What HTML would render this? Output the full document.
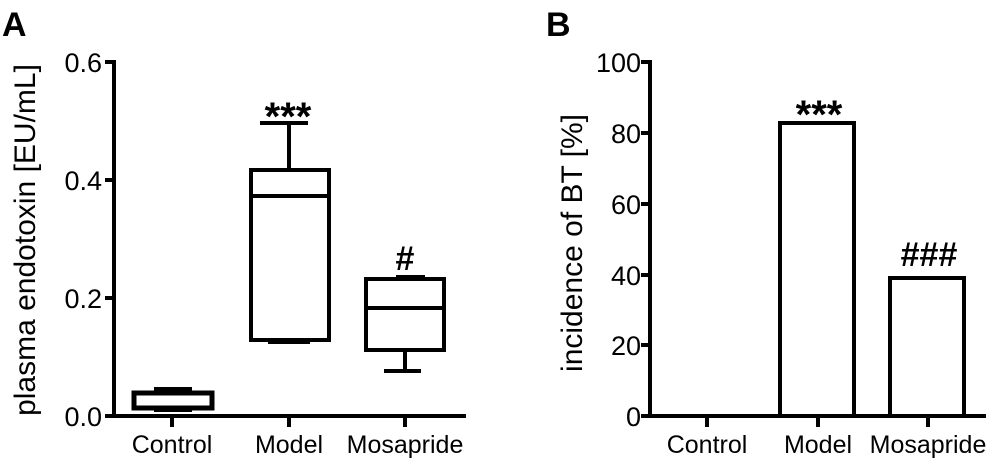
<!DOCTYPE html>
<html><head><style>body{margin:0;background:#fff}svg{display:block}</style></head><body>
<svg width="992" height="461" viewBox="0 0 992 461" xmlns="http://www.w3.org/2000/svg" font-family="Liberation Sans, sans-serif" fill="#000">
<text x="2" y="36" font-size="34" font-weight="bold">A</text>
<text x="546" y="36" font-size="34" font-weight="bold">B</text>
<g stroke="#000" stroke-width="4" fill="none" stroke-linecap="square">
<line x1="114" y1="62" x2="114" y2="416"/>
<line x1="114" y1="416" x2="464" y2="416"/>
<line x1="107" y1="62" x2="114" y2="62"/><line x1="107" y1="180" x2="114" y2="180"/><line x1="107" y1="298" x2="114" y2="298"/><line x1="107" y1="416" x2="114" y2="416"/>
<line x1="172" y1="416" x2="172" y2="425"/><line x1="289" y1="416" x2="289" y2="425"/><line x1="405" y1="416" x2="405" y2="425"/>
<rect x="134" y="393" width="78" height="15" stroke-width="5"/>
<line x1="156" y1="389" x2="190" y2="389"/><line x1="156" y1="410" x2="190" y2="410"/>
<rect x="251" y="170" width="78" height="170"/>
<line x1="251" y1="196" x2="329" y2="196"/>
<line x1="289" y1="170" x2="289" y2="123"/><line x1="262" y1="123" x2="306" y2="123"/>
<line x1="270" y1="342" x2="308" y2="342"/>
<rect x="366" y="279" width="78" height="71"/>
<line x1="366" y1="308" x2="444" y2="308"/>
<line x1="398" y1="277" x2="423" y2="277"/>
<line x1="405" y1="350" x2="405" y2="371"/><line x1="386" y1="371" x2="419" y2="371"/>
<line x1="650" y1="62" x2="650" y2="416"/>
<line x1="650" y1="416" x2="984" y2="416"/>
<line x1="643" y1="62" x2="650" y2="62"/><line x1="643" y1="133" x2="650" y2="133"/><line x1="643" y1="204" x2="650" y2="204"/><line x1="643" y1="275" x2="650" y2="275"/><line x1="643" y1="345" x2="650" y2="345"/><line x1="643" y1="416" x2="650" y2="416"/>
<line x1="707" y1="416" x2="707" y2="425"/><line x1="818" y1="416" x2="818" y2="425"/><line x1="928" y1="416" x2="928" y2="425"/>
<rect x="780" y="123" width="74" height="293"/>
<rect x="890" y="278" width="74" height="138"/>
</g>
<g font-size="27" text-anchor="end">
<text x="102" y="72">0.6</text><text x="102" y="190">0.4</text><text x="102" y="308">0.2</text><text x="102" y="426">0.0</text>
<text x="641" y="72">100</text><text x="641" y="143">80</text><text x="641" y="214">60</text><text x="641" y="285">40</text><text x="641" y="355">20</text><text x="641" y="426">0</text>
</g>
<g font-size="25" text-anchor="middle">
<text x="172" y="453">Control</text><text x="289" y="453">Model</text><text x="405" y="453">Mosapride</text>
<text x="707" y="453">Control</text><text x="818" y="453">Model</text><text x="928" y="453">Mosapride</text>
</g>
<g font-size="30" text-anchor="middle">
<text transform="translate(35,240) rotate(-90)">plasma endotoxin [EU/mL]</text>
<text transform="translate(582,243) rotate(-90)">incidence of BT [%]</text>
</g>
<g font-size="40" font-weight="bold" text-anchor="middle">
<text x="288" y="130">***</text><text x="819" y="128">***</text>
</g>
<g font-size="34" font-weight="bold" text-anchor="middle">
<text x="405" y="270">#</text><text x="929" y="266">###</text>
</g>
</svg>
</body></html>
